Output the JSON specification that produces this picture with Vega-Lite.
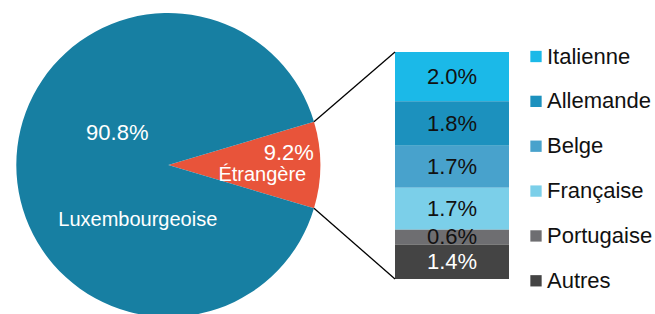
{
  "$schema": "https://vega.github.io/schema/vega-lite/v6.json",
  "width": 655,
  "height": 314,
  "padding": 0,
  "autosize": {"type": "none"},
  "background": "white",
  "config": {"view": {"stroke": null}, "font": "Liberation Sans"},
  "resolve": {"scale": {"color": "independent"}, "legend": {"color": "independent"}},
  "datasets": {
    "pie": [
      {"name": "Étrangère", "share": 0.092, "ord": 1},
      {"name": "Luxembourgeoise", "share": 0.908, "ord": 2}
    ],
    "detail": [
      {"name": "Italienne", "share": 0.020, "ord": 6},
      {"name": "Allemande", "share": 0.018, "ord": 5},
      {"name": "Belge", "share": 0.017, "ord": 4},
      {"name": "Française", "share": 0.017, "ord": 3},
      {"name": "Portugaise", "share": 0.006, "ord": 2},
      {"name": "Autres", "share": 0.014, "ord": 1}
    ],
    "anchor": [{}]
  },
  "layer": [
    {
      "data": {"name": "pie"},
      "transform": [{"stack": "share", "groupby": [], "sort": [{"field": "ord", "order": "ascending"}], "as": ["t0", "t1"]}],
      "mark": {"type": "arc", "outerRadius": 152},
      "encoding": {
        "theta": {"field": "t0", "type": "quantitative", "scale": {"domain": [0, 1], "range": [1.2818, 7.5650]}},
        "theta2": {"field": "t1"},
        "color": {"field": "name", "type": "nominal", "scale": {"domain": ["Luxembourgeoise", "Étrangère"], "range": ["#177fa2", "#e8543a"]}, "legend": null},
        "x": {"datum": 0.068209, "type": "quantitative", "stack": null, "scale": {"domain": [0, 0.26546], "nice": false, "zero": false}, "axis": null},
        "y": {"datum": 0.046203, "type": "quantitative", "stack": null, "scale": {"domain": [-0.014185, 0.113075], "nice": false, "zero": false}, "axis": null}
      }
    },
    {
      "data": {"name": "pie"},
      "transform": [{"filter": "datum.name === 'Luxembourgeoise'"}],
      "mark": {"type": "text", "fontSize": 22, "color": "white", "align": "center", "baseline": "alphabetic", "dx": -51, "dy": -25},
      "encoding": {
        "x": {"datum": 0.068209, "type": "quantitative", "stack": null, "scale": {"domain": [0, 0.26546], "nice": false, "zero": false}, "axis": null},
        "y": {"datum": 0.046203, "type": "quantitative", "stack": null, "scale": {"domain": [-0.014185, 0.113075], "nice": false, "zero": false}, "axis": null},
        "text": {"field": "share", "type": "quantitative", "format": ".1%"}
      }
    },
    {
      "data": {"name": "pie"},
      "transform": [{"filter": "datum.name === 'Luxembourgeoise'"}],
      "mark": {"type": "text", "fontSize": 20, "color": "white", "align": "center", "baseline": "alphabetic", "dx": -30.5, "dy": 61},
      "encoding": {
        "x": {"datum": 0.068209, "type": "quantitative", "stack": null, "scale": {"domain": [0, 0.26546], "nice": false, "zero": false}, "axis": null},
        "y": {"datum": 0.046203, "type": "quantitative", "stack": null, "scale": {"domain": [-0.014185, 0.113075], "nice": false, "zero": false}, "axis": null},
        "text": {"field": "name", "type": "nominal"}
      }
    },
    {
      "data": {"name": "pie"},
      "transform": [{"filter": "datum.name === 'Étrangère'"}],
      "mark": {"type": "text", "fontSize": 22, "color": "white", "align": "center", "baseline": "alphabetic", "dx": 120.5, "dy": -5},
      "encoding": {
        "x": {"datum": 0.068209, "type": "quantitative", "stack": null, "scale": {"domain": [0, 0.26546], "nice": false, "zero": false}, "axis": null},
        "y": {"datum": 0.046203, "type": "quantitative", "stack": null, "scale": {"domain": [-0.014185, 0.113075], "nice": false, "zero": false}, "axis": null},
        "text": {"field": "share", "type": "quantitative", "format": ".1%"}
      }
    },
    {
      "data": {"name": "pie"},
      "transform": [{"filter": "datum.name === 'Étrangère'"}],
      "mark": {"type": "text", "fontSize": 20, "color": "white", "align": "center", "baseline": "alphabetic", "dx": 94, "dy": 16},
      "encoding": {
        "x": {"datum": 0.068209, "type": "quantitative", "stack": null, "scale": {"domain": [0, 0.26546], "nice": false, "zero": false}, "axis": null},
        "y": {"datum": 0.046203, "type": "quantitative", "stack": null, "scale": {"domain": [-0.014185, 0.113075], "nice": false, "zero": false}, "axis": null},
        "text": {"field": "name", "type": "nominal"}
      }
    },
    {
      "data": {"name": "detail"},
      "transform": [{"stack": "share", "groupby": [], "sort": [{"field": "ord", "order": "ascending"}], "as": ["s0", "s1"]}],
      "mark": {"type": "rect"},
      "encoding": {
        "x": {"datum": 0.16009, "type": "quantitative", "scale": {"domain": [0, 0.26546], "nice": false, "zero": false}, "axis": null},
        "x2": {"datum": 0.20629},
        "y": {"field": "s0", "type": "quantitative", "scale": {"domain": [-0.014185, 0.113075], "nice": false, "zero": false}, "axis": null},
        "y2": {"field": "s1"},
        "color": {
          "field": "name", "type": "nominal",
          "scale": {"domain": ["Italienne", "Allemande", "Belge", "Française", "Portugaise", "Autres"], "range": ["#1bb9e8", "#1c91be", "#48a2cc", "#7bcfe9", "#6e6e71", "#444444"]},
          "legend": {"orient": "none", "legendX": 525, "legendY": 45.5, "title": null, "symbolType": "square", "symbolSize": 128, "symbolStrokeWidth": 0, "labelFontSize": 22, "labelFont": "Liberation Sans", "labelColor": "#111111", "rowPadding": 22.86, "labelOffset": 0, "padding": 0}
        }
      }
    },
    {
      "data": {"name": "detail"},
      "mark": {"type": "text", "fontSize": 22, "baseline": "middle", "align": "center"},
      "encoding": {
        "x": {"datum": 0.18319, "type": "quantitative", "scale": {"domain": [0, 0.26546], "nice": false, "zero": false}, "axis": null},
        "y": {"field": "share", "type": "quantitative", "stack": "zero", "bandPosition": 0.5, "scale": {"domain": [-0.014185, 0.113075], "nice": false, "zero": false}, "axis": null},
        "detail": {"field": "name"},
        "order": {"field": "ord", "type": "quantitative"},
        "text": {"field": "share", "type": "quantitative", "format": ".1%"},
        "color": {"condition": {"test": "datum.name === 'Autres'", "value": "white"}, "value": "#111111"}
      }
    },
    {
      "data": {"name": "anchor"},
      "mark": {"type": "rule", "color": "black", "strokeWidth": 1.3},
      "encoding": {
        "x": {"datum": 0.12726, "type": "quantitative", "scale": {"domain": [0, 0.26546], "nice": false, "zero": false}, "axis": null},
        "y": {"datum": 0.063752, "type": "quantitative", "scale": {"domain": [-0.014185, 0.113075], "nice": false, "zero": false}, "axis": null},
        "x2": {"datum": 0.16009},
        "y2": {"datum": 0.092}
      }
    },
    {
      "data": {"name": "anchor"},
      "mark": {"type": "rule", "color": "black", "strokeWidth": 1.3},
      "encoding": {
        "x": {"datum": 0.12726, "type": "quantitative", "scale": {"domain": [0, 0.26546], "nice": false, "zero": false}, "axis": null},
        "y": {"datum": 0.028654, "type": "quantitative", "scale": {"domain": [-0.014185, 0.113075], "nice": false, "zero": false}, "axis": null},
        "x2": {"datum": 0.16009},
        "y2": {"datum": 0}
      }
    }
  ]
}
